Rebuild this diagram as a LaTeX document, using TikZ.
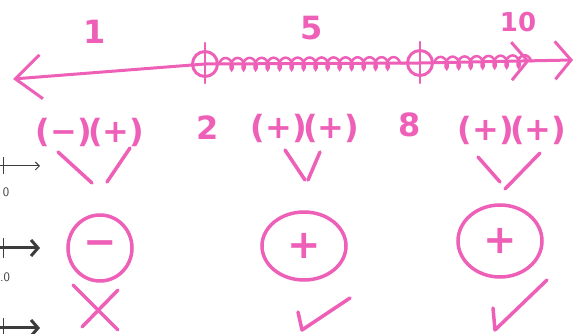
\documentclass[tikz,border=0pt]{standalone}
\usepackage{fontspec}
\usepackage{tikz}
\usetikzlibrary{arrows.meta,positioning,shapes.geometric,decorations.pathmorphing}
\newfontfamily\handfont{DejaVu Sans}[BoldFont={DejaVu Sans Bold}]
\definecolor{inkpink}{RGB}{238, 96, 184}
\definecolor{inkgray}{RGB}{60, 60, 60}
\tikzset{
 handtext/.style={
 text=inkpink,
 font=\handfont\bfseries\fontsize{32}{38}\selectfont,
 inner sep=0pt
 },
 openpoint/.style={
 circle,
 draw=inkpink,
 line width=3pt,
 minimum size=25pt,
 inner sep=0pt
 },
 signbubble/.style={
 ellipse,
 draw=inkpink,
 line width=3.5pt,
 inner sep=0pt,
 text=inkpink,
 font=\handfont\bfseries\fontsize{40}{44}\selectfont
 },
 markline/.style={draw=inkpink, line width=3.5pt, line cap=round, line join=round},
 shadeline/.style={
 draw=inkpink,
 line width=2.5pt,
 decorate,
 decoration={coil, aspect=0.6, segment length=12pt, amplitude=6pt}
 },
 guidearrow/.style={draw=inkgray, line width=3pt, -{Straight Barb[length=7pt,width=16pt]}},
 guidetick/.style={draw=inkgray, line width=1pt},
 guidelabel/.style={text=inkgray, font=\sffamily\fontsize{13}{15}\selectfont, inner sep=0pt}
}

\begin{document}
\begin{tikzpicture}[x=1pt, y=-1pt]
 \useasboundingbox (0,0) rectangle (582,334);

 \node[handtext] (top1) at (95,32) {1};
 \node[handtext] (top5) at (312,28) {5};
 \node[handtext, font=\handfont\bfseries\fontsize{26}{30}\selectfont] (top10) at (518,22) {10};

 \coordinate (lend) at (13,79);
 \coordinate (rend) at (573,60);
 \coordinate (coilend) at (532,61);
 \node[openpoint] (p2) at (205,64) {};
 \node[openpoint] (p8) at (420,63) {};

 \draw[markline, line width=3pt, {Straight Barb[length=26pt,width=44pt]}-{Straight Barb[length=16pt,width=38pt,sep=24pt]Straight Barb[length=16pt,width=38pt]}] (lend) -- (p2.center) -- (p8.center) -- (rend);
 \draw[shadeline] (p2.east) -- (p8.west);
 \draw[shadeline] (p8.east) -- (coilend);
 \draw[markline, line width=2.5pt] ([yshift=21pt]p2.center) -- ([yshift=-19pt]p2.center);
 \draw[markline, line width=2.5pt] ([yshift=21pt]p8.center) -- ([yshift=-20pt]p8.center);

 \node[handtext] (f1) at (90,132) {(−)\kern-4pt(+)};
 \node[handtext] (n2) at (208,128) {2};
 \node[handtext] (f2) at (305,128) {(+)\kern-4pt(+)};
 \node[handtext] (n8) at (410,125) {8};
 \node[handtext] (f3) at (512,130) {(+)\kern-4pt(+)};

 \draw[markline] ([shift={(-32,20)}]f1.center) -- ++(34,31);
 \draw[markline] ([shift={(40,16)}]f1.center) -- ++(-23,34);
 \draw[markline] ([shift={(-20,22)}]f2.center) -- ++(20,30);
 \draw[markline] ([shift={(15,24)}]f2.center) -- ++(-12,28);
 \draw[markline] ([shift={(-34,27)}]f3.center) -- ++(22,25);
 \draw[markline] ([shift={(28,23)}]f3.center) -- ++(-35,36);

 \node[signbubble, minimum width=64pt, minimum height=66pt] (s1) at (100,248) {−};
 \node[signbubble, minimum width=84pt, minimum height=68pt] (s2) at (304,246) {+};
 \node[signbubble, minimum width=84pt, minimum height=72pt] (s3) at (500,241) {+};

 \draw[markline] ([shift={(-27,37)}]s1.center) -- ++(45,45);
 \draw[markline] ([shift={(18,42)}]s1.center) -- ++(-36,37);
 \draw[markline] ([shift={(-6,66)}]s2.center) -- ++(4,18) -- ++(48,-32);
 \draw[markline] ([shift={(-7,67)}]s3.center) -- ++(2,22) -- ++(52,-50);

 \coordinate (g1a) at (0,166);
 \coordinate (g1b) at (40,166);
 \coordinate (g2a) at (0,248);
 \coordinate (g2b) at (40,248);
 \coordinate (g3a) at (0,328);
 \coordinate (g3b) at (40,328);
 \draw[guidearrow, line width=1pt, -{Straight Barb[length=4pt,width=8pt]}] (g1a) -- (g1b);
 \draw[guidearrow] (g2a) -- (g2b);
 \draw[guidearrow] (g3a) -- (g3b);
 \draw[guidetick] ([shift={(3,-9)}]g1a) -- ([shift={(3,8)}]g1a);
 \draw[guidetick] ([shift={(3,-10)}]g2a) -- ([shift={(3,10)}]g2a);
 \draw[guidetick] ([shift={(3,-10)}]g3a) -- ([shift={(3,10)}]g3a);
 \node[guidelabel] (lab1) at (6,192) {0};
 \node[guidelabel] (lab2) at (5,277) {.0};
\end{tikzpicture}
\end{document}
